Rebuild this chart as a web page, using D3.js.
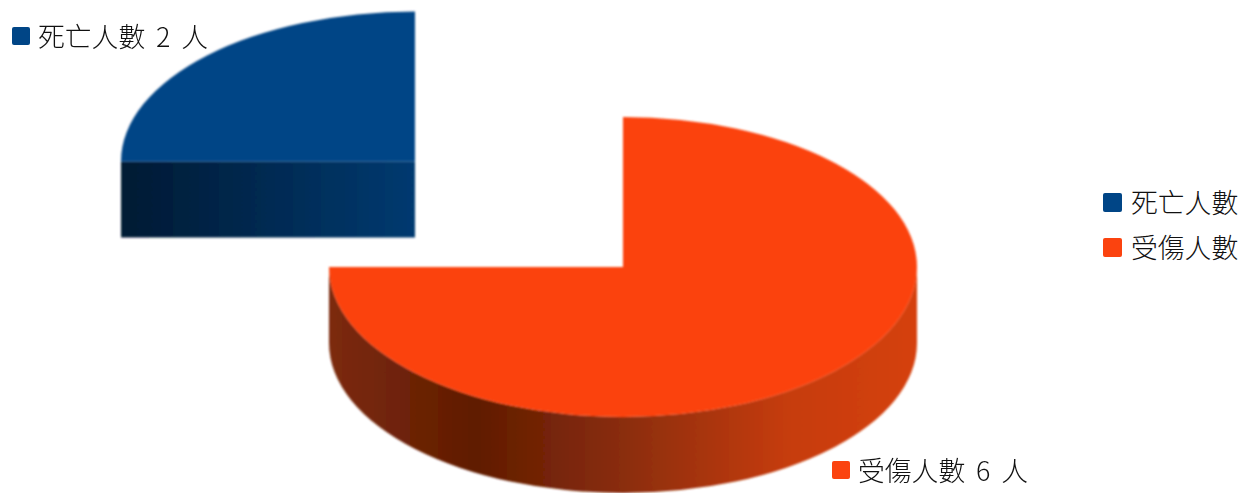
<!DOCTYPE html>
<html>
<head>
<meta charset="utf-8">
<script src="https://cdn.jsdelivr.net/npm/d3@7"></script>
<style>
  html, body { margin: 0; padding: 0; background: #fff; overflow: hidden; }
  text { font-family: "Noto Sans CJK TC", "Noto Sans CJK JP", sans-serif; font-weight: 300; fill: #111; }
</style>
</head>
<body>
<div id="chart"></div>
<script>
const categories = ['死亡人數', '受傷人數'];
const values = [2, 6];
const unit = '人';
const colors = ['#004586', '#fb430f'];

const width = 1250,
      height = 493;

const rx = 294,
      ry = 150,
      depth = 76;

// each slice is pulled out of the pie by hand in the original
const centers = [{x: 415, y: 161.5}, {x: 623, y: 267}];
const labelPos = [{x: 12, y: 45}, {x: 832, y: 479}];

const svg = d3.select('#chart').append('svg')
  .attr('width', width)
  .attr('height', height);

const defs = svg.append('defs');

defs.append('filter')
  .attr('id', 'soft')
  .attr('x', '-5%').attr('y', '-5%').attr('width', '110%').attr('height', '110%')
  .append('feGaussianBlur')
  .attr('stdDeviation', 0.8);

// side walls are shaded from left to right
const wallStops = [
  [{o: 0, c: '#001a33'}, {o: 0.5, c: '#002a52'}, {o: 1, c: '#003a70'}],
  [{o: 0, c: '#7c2a0a'}, {o: 0.25, c: '#601c04'}, {o: 0.5, c: '#8a2d0a'}, {o: 0.78, c: '#c63c0d'}, {o: 1, c: '#d5410e'}]
];

wallStops.forEach((stops, i) => {
  defs.append('linearGradient')
    .attr('id', `wall-${i}`)
    .selectAll('stop')
    .data(stops)
    .enter().append('stop')
    .attr('offset', d => d.o)
    .attr('stop-color', d => d.c);
});

const color = d3.scaleOrdinal().domain(categories).range(colors);

const pie = d3.pie()
  .sort(null)
  .startAngle(-Math.PI / 2)
  .endAngle(Math.PI * 1.5);

const arcs = pie(values);

const arc = d3.arc()
  .innerRadius(0)
  .outerRadius(rx);

const px = a => rx * Math.sin(a);
const py = a => -ry * Math.cos(a);

// wall is the part of the rim facing us, plus the flat cut if it faces us
function wallPath(d) {
  const a0 = Math.max(d.startAngle, Math.PI / 2);
  const a1 = Math.min(d.endAngle, Math.PI * 1.5);
  if (a1 > a0) {
    return `M${px(a0)},${py(a0)}` +
      `A${rx},${ry} 0 0 1 ${px(a1)},${py(a1)}` +
      `L${px(a1)},${py(a1) + depth}` +
      `A${rx},${ry} 0 0 0 ${px(a0)},${py(a0) + depth}Z`;
  }
  return `M${px(d.startAngle)},${py(d.startAngle)}L0,0L0,${depth}` +
    `L${px(d.startAngle)},${py(d.startAngle) + depth}Z`;
}

const chart = svg.append('g').attr('filter', 'url(#soft)');

const slices = chart.selectAll('.slice')
  .data(arcs)
  .enter().append('g')
  .attr('class', 'slice')
  .attr('transform', (d, i) => `translate(${centers[i].x}, ${centers[i].y})`);

slices.append('path')
  .attr('d', wallPath)
  .attr('fill', (d, i) => `url(#wall-${i})`);

slices.append('path')
  .attr('d', arc)
  .attr('transform', `scale(1, ${ry / rx})`)
  .attr('fill', (d, i) => color(categories[i]));

// labels next to the slices
const labels = svg.append('g')
  .selectAll('g')
  .data(categories)
  .enter().append('g')
  .attr('transform', (d, i) => `translate(${labelPos[i].x}, ${labelPos[i].y})`);

labels.append('rect')
  .attr('y', -18)
  .attr('width', 18)
  .attr('height', 18)
  .attr('rx', 2)
  .attr('fill', d => color(d));

labels.append('text')
  .attr('x', 26)
  .attr('y', 2)
  .attr('font-size', 26.8)
  .attr('word-spacing', 5)
  .text((d, i) => `${d} ${values[i]} ${unit}`);

// legend on the right
const legend = svg.append('g')
  .attr('transform', 'translate(1103, 193)')
  .selectAll('g')
  .data(categories)
  .enter().append('g')
  .attr('transform', (d, i) => `translate(0, ${i * 45})`);

legend.append('rect')
  .attr('width', 19)
  .attr('height', 19)
  .attr('rx', 2)
  .attr('fill', d => color(d));

legend.append('text')
  .attr('x', 28)
  .attr('y', 20)
  .attr('font-size', 26.8)
  .text(d => d);
</script>
</body>
</html>
